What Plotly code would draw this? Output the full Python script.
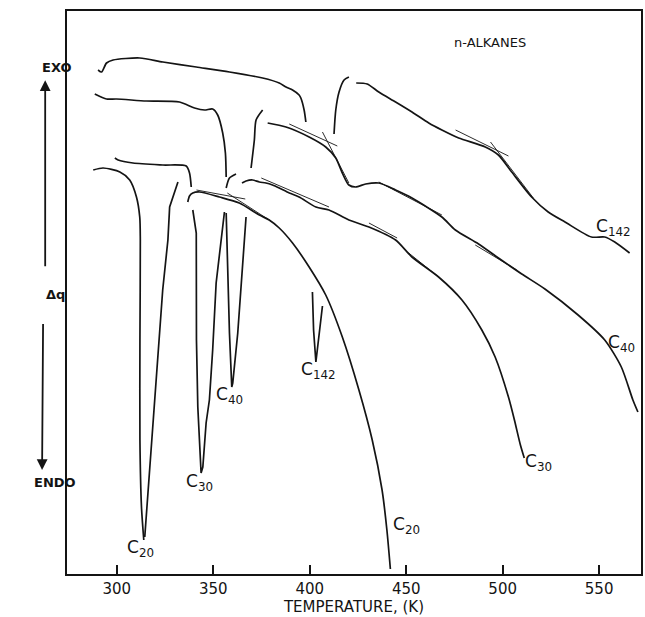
import plotly.graph_objects as go

# ---------------- data (temperature in K, heat flow dq in arbitrary units) ----------------
tick_vals = [300, 350, 400, 450, 500, 550]
tick_text = ["300", "350", "400", "450", "500", "550"]

# C142 trace
c142_T_1 = [290.3, 292.1, 294.7, 298.1, 311.9, 323.9, 341.2, 358.4, 375.6, 384.2, 387.7, 391.1, 394.5, 395.4, 397.1, 398.0]
c142_q_1 = [504, 502, 511, 514, 516, 512, 507, 502, 496, 491, 487, 484, 479, 476, 464, 452]
c142_T_2 = [401.4, 402.0, 403.2, 404.3, 405.4, 406.6]
c142_q_2 = [282, 244, 212, 229, 246, 268]
c142_T_3 = [412.6, 413.5, 415.2, 417.8, 420.3]
c142_q_3 = [440, 464, 482, 494, 497]
c142_T_4 = [424.1, 429.8, 435.8, 444.5, 453.0, 461.7, 468.5, 477.2, 491.0, 497.8, 504.7, 515.0, 523.6, 532.3, 546.0, 552.9, 558.1, 565.8]
c142_q_4 = [491, 490, 482, 472, 462, 451, 444, 436, 427, 419, 402, 377, 362, 352, 337, 337, 332, 321]
c142_tan_T = [[475.6, 503.0], [493.7, 515.9]]
c142_tan_q = [[444, 418], [432, 376]]

# C40 trace
c40_T_1 = [288.6, 294.7, 299.8, 315.3, 332.5, 340.3, 345.5, 349.7, 352.3, 354.9, 356.3, 356.7]
c40_q_1 = [480, 475, 475, 473, 472, 466, 464, 465, 459, 441, 421, 397]
c40_T_2 = [356.7, 357.5, 358.4, 359.6, 360.1, 362.7, 365.2, 367.0]
c40_q_2 = [361, 291, 241, 187, 191, 241, 307, 357]
c40_T_3 = [369.6, 371.3, 372.2, 375.6]
c40_q_3 = [406, 434, 454, 464]
c40_T_4 = [378.2, 387.7, 399.7, 408.3, 413.5, 416.9, 420.3, 423.8, 429.0, 435.8, 444.5, 453.0, 468.5, 475.5, 487.5, 497.8, 509.9, 521.9, 539.1, 552.9, 561.5, 567.5, 570.1]
c40_q_4 = [451, 447, 437, 427, 416, 401, 389, 387, 390, 391, 384, 376, 357, 344, 330, 316, 300, 285, 259, 234, 207, 174, 162]
c40_tan_T = [[389.4, 414.3], [406.6, 420.3], [435.8, 468.5], [485.8, 507.3]]
c40_tan_q = [[450, 428], [442, 391], [392, 359], [329, 304]]

# C30 trace
c30_T_1 = [299.0, 300.7, 308.4, 323.9, 336.0, 337.7, 338.6]
c30_q_1 = [416, 414, 411, 409, 408, 401, 387]
c30_T_2 = [339.4, 341.2, 341.3, 342.0, 343.7, 344.6, 346.3, 348.0, 349.7, 351.5, 355.8]
c30_q_2 = [364, 341, 234, 167, 101, 107, 151, 174, 224, 291, 362]
c30_T_3 = [356.7, 358.4, 361.8]
c30_q_3 = [386, 396, 400]
c30_T_4 = [364.9, 367.0, 370.4, 373.9, 377.3, 380.7, 384.2, 389.4, 394.5, 403.2, 410.0, 420.3, 430.7, 444.5, 453.0, 466.8, 478.9, 489.2, 496.1, 503.0, 506.1, 509.2, 511.2]
c30_q_4 = [391, 393, 394, 392, 391, 389, 386, 381, 377, 367, 364, 354, 347, 334, 317, 297, 274, 244, 217, 177, 154, 129, 116]
c30_tan_T = [[374.9, 410.0], [430.7, 445.3], [451.3, 466.8]]
c30_tan_q = [[396, 367], [351, 336], [321, 297]]

# C20 trace
c20_T_1 = [287.8, 292.9, 301.6, 306.7, 310.2, 311.9, 312.2, 312.0, 312.0, 312.8, 314.0]
c20_q_1 = [404, 406, 402, 394, 377, 357, 334, 234, 134, 67, 34]
c20_T_2 = [314.5, 316.2, 318.7, 319.6, 321.7, 323.8, 326.5, 327.4, 331.7]
c20_q_2 = [37, 84, 151, 174, 229, 284, 334, 367, 392]
c20_T_3 = [336.8, 337.7, 339.4, 342.9, 353.2, 363.5, 373.9, 379.0, 384.2, 391.1, 399.7, 408.3, 416.9, 425.5, 432.4, 437.5, 440.0, 441.8]
c20_q_3 = [372, 378, 381, 382, 377, 371, 359, 354, 346, 331, 307, 279, 237, 184, 134, 84, 44, 5]
c20_tan_T = [[341.3, 366.6], [357.3, 380.6]]
c20_tan_q = [[384, 375], [381, 352]]

# labels: (text, T, dq)
peak_labels = [("C<sub>20</sub>", 312.4, 26), ("C<sub>30</sub>", 342.9, 92),
               ("C<sub>40</sub>", 358.4, 179), ("C<sub>142</sub>", 404.6, 204)]
end_labels = [("C<sub>20</sub>", 450.3, 49), ("C<sub>30</sub>", 518.5, 112),
              ("C<sub>40</sub>", 561.4, 231), ("C<sub>142</sub>", 557.7, 347)]

# ---------------- figure ----------------
fig = go.Figure()
INK = "#141414"

def add_line(T, q, width=1.7, shape="spline"):
    fig.add_trace(go.Scatter(x=T, y=q, mode="lines", showlegend=False, hoverinfo="skip",
                             line=dict(color=INK, width=width, shape=shape,
                                       **({"smoothing": 0.7} if shape == "spline" else {}))))

smooth_segments = [(c142_T_1, c142_q_1), (c142_T_3, c142_q_3), (c142_T_4, c142_q_4),
                   (c40_T_1, c40_q_1), (c40_T_3, c40_q_3), (c40_T_4, c40_q_4),
                   (c30_T_1, c30_q_1), (c30_T_3, c30_q_3), (c30_T_4, c30_q_4),
                   (c20_T_1, c20_q_1), (c20_T_3, c20_q_3)]
peak_segments = [(c142_T_2, c142_q_2), (c40_T_2, c40_q_2), (c30_T_2, c30_q_2), (c20_T_2, c20_q_2)]

for T, q in smooth_segments:
    add_line(T, q)
for T, q in peak_segments:
    add_line(T, q, shape="linear")

for Ts, qs in [(c142_tan_T, c142_tan_q), (c40_tan_T, c40_tan_q), (c30_tan_T, c30_tan_q), (c20_tan_T, c20_tan_q)]:
    for T, q in zip(Ts, qs):
        add_line(T, q, width=0.9, shape="linear")

annotations = []
for txt, T, q in peak_labels + end_labels:
    annotations.append(dict(x=T, y=q, xref="x", yref="y", text=txt, showarrow=False,
                            font=dict(family="DejaVu Sans", size=17, color=INK)))

annotations.append(dict(x=493.2, y=532, xref="x", yref="y", text="n-ALKANES", showarrow=False,
                        font=dict(family="DejaVu Sans", size=13, color=INK)))

# left side EXO / ENDO
side_font = dict(family="DejaVu Sans", size=13, color=INK)
annotations += [
    dict(x=-0.047, y=0.9165, xref="paper", yref="paper", text="<b>EXO</b>", showarrow=False, font=side_font),
    dict(x=-0.040, y=0.4956, xref="paper", yref="paper", text="<b>Δq</b>", showarrow=False, font=side_font),
    dict(x=-0.061, y=0.1456, xref="paper", yref="paper", text="<b>ENDO</b>", showarrow=False, font=side_font),
    dict(x=-0.038, y=0.877, xref="paper", yref="paper", text=" ", showarrow=True,
         ax=0, ay=188, arrowhead=2, arrowsize=1.2, arrowwidth=1.8, arrowcolor=INK,
         font=dict(size=1)),
    dict(x=-0.0434, y=0.1847, xref="paper", yref="paper", text=" ", showarrow=True,
         ax=1, ay=-148, arrowhead=2, arrowsize=1.2, arrowwidth=1.8, arrowcolor=INK,
         font=dict(size=1)),
]

fig.update_layout(
    width=645, height=617,
    margin=dict(l=67, r=2, t=11, b=43),
    paper_bgcolor="white", plot_bgcolor="white",
    annotations=annotations,
    xaxis=dict(range=[274.2, 571.7], tickvals=tick_vals, ticktext=tick_text,
               ticks="inside", ticklen=9, tickwidth=2, tickcolor=INK,
               showline=True, linewidth=2, linecolor=INK, mirror=True,
               showgrid=False, zeroline=False,
               tickfont=dict(family="DejaVu Sans", size=15, color=INK),
               title=dict(text="TEMPERATURE, (K)", standoff=2,
                          font=dict(family="DejaVu Sans", size=15, color=INK))),
    yaxis=dict(range=[0, 563], showticklabels=False, ticks="",
               showline=True, linewidth=2, linecolor=INK, mirror=True,
               showgrid=False, zeroline=False),
)

fig.write_html("out.html")
